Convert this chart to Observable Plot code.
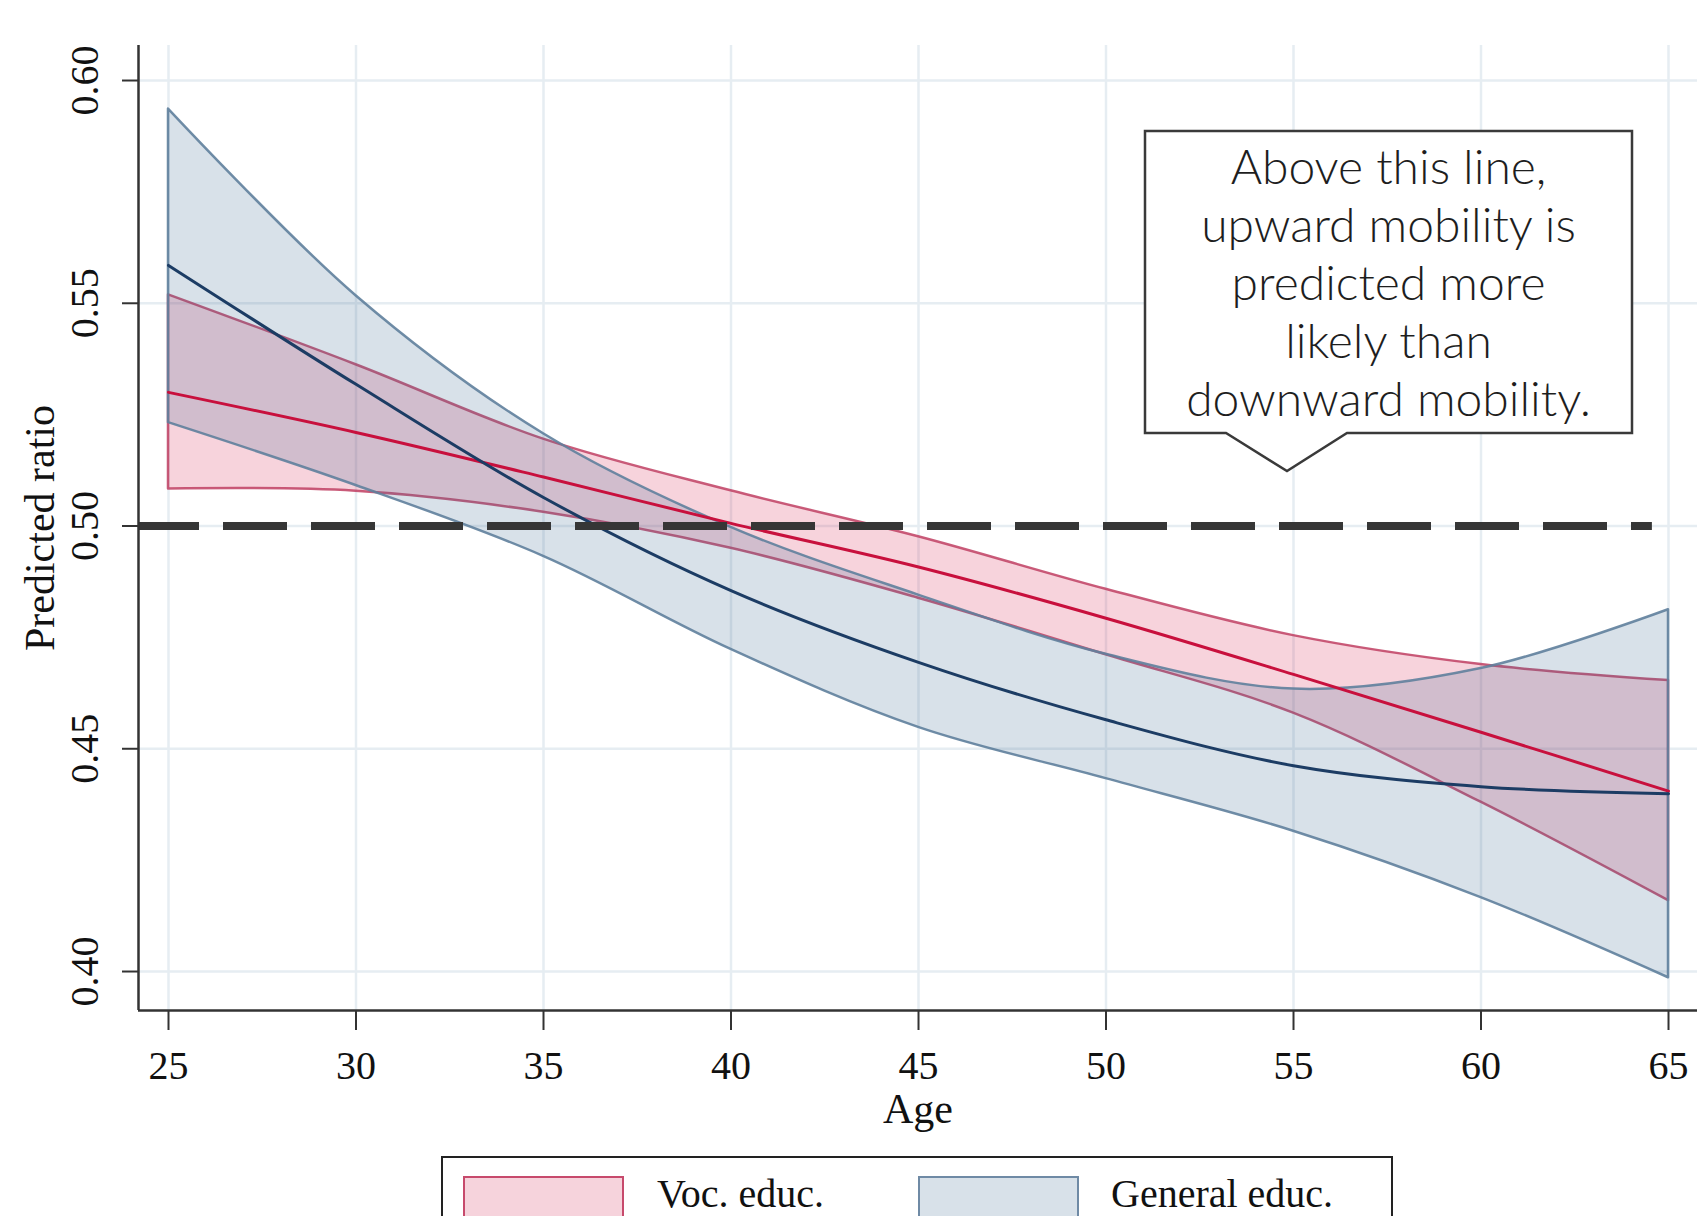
<!DOCTYPE html>
<html>
<head>
<meta charset="utf-8">
<script src="https://cdn.jsdelivr.net/npm/d3@7"></script>
<script src="https://cdn.jsdelivr.net/npm/@observablehq/plot@0.6"></script>
<style>
  html, body { margin: 0; padding: 0; background: #fff; overflow: hidden; }
  #wrap { position: relative; width: 1697px; height: 1216px; overflow: hidden; background: #fff; }
  #chart svg { display: block; }
  #note { position: absolute; left: 0; top: 0; pointer-events: none; }
  #legend {
    position: absolute; left: 441px; top: 1156px; width: 948px; height: 120px;
    border: 2px solid #222; background: #fff; box-sizing: content-box;
    font-family: "Liberation Serif", "Times New Roman", serif; font-size: 40px; color: #111;
  }
  .sw { position: absolute; top: 18px; width: 161px; height: 60px; box-sizing: border-box; border: 2px solid; }
  .lt { position: absolute; top: 16px; line-height: 40px; white-space: nowrap; }
</style>
</head>
<body>
<div id="wrap">
  <div id="chart"></div>
  <svg id="note" width="1697" height="1216"></svg>
  <div id="legend"></div>
</div>
<script>
// ---- data ----
const ages = [25, 30, 35, 40, 45, 50, 55, 60, 65];
const vocMean = [0.5300, 0.5210, 0.5110, 0.5006, 0.4908, 0.4793, 0.4667, 0.4537, 0.4405];
const vocHi   = [0.5519, 0.5362, 0.5195, 0.5079, 0.4976, 0.4858, 0.4754, 0.4689, 0.4653];
const vocLo   = [0.5083, 0.5078, 0.5031, 0.4950, 0.4838, 0.4711, 0.4580, 0.4380, 0.4159];
const genMean = [0.5585, 0.5318, 0.5064, 0.4855, 0.4694, 0.4565, 0.4462, 0.4415, 0.4399];
const genHi   = [0.5936, 0.5517, 0.5207, 0.4997, 0.4845, 0.4712, 0.4634, 0.4680, 0.4812];
const genLo   = [0.5232, 0.5091, 0.4932, 0.4723, 0.4548, 0.4433, 0.4315, 0.4166, 0.3986];
const xTicks = [25, 30, 35, 40, 45, 50, 55, 60, 65];
const yTicks = [0.40, 0.45, 0.50, 0.55, 0.60];
const refValue = 0.5;
const refEnd = 64.57;
const seriesNames = ["Voc. educ.", "General educ."];
const noteLines = ["Above this line,", "upward mobility is", "predicted more", "likely than", "downward mobility."];

const xDomain = [24.2, 65.773];
const yDomain = [0.39125, 0.60786];

const voc = ages.map((a, i) => ({age: a, mean: vocMean[i], lo: vocLo[i], hi: vocHi[i]}));
const gen = ages.map((a, i) => ({age: a, mean: genMean[i], lo: genLo[i], hi: genHi[i]}));

const colors = {
  vocFill: "#d8244f", vocEdge: "#bf3f63", vocLine: "#c8103d",
  genFill: "#3d6a8f", genEdge: "#5f7f9c", genLine: "#1c3c64",
  grid: "#e6edf2", axis: "#333333"
};

const chart = Plot.plot({
  width: 1697,
  height: 1150,
  marginLeft: 138,
  marginRight: 0,
  marginTop: 45,
  marginBottom: 140,
  style: {fontFamily: "'Liberation Serif', 'Times New Roman', serif", fontSize: "40px", color: "#111", background: "#fff"},
  x: {domain: xDomain},
  y: {domain: yDomain},
  marks: [
    Plot.gridX(xTicks, {stroke: colors.grid, strokeOpacity: 1, strokeWidth: 2.5}),
    Plot.gridY(yTicks, {stroke: colors.grid, strokeOpacity: 1, strokeWidth: 2.5}),
    Plot.areaY(voc, {x: "age", y1: "lo", y2: "hi", curve: "catmull-rom", fill: colors.vocFill, fillOpacity: 0.2, stroke: colors.vocEdge, strokeOpacity: 0.85, strokeWidth: 2.5}),
    Plot.areaY(gen, {x: "age", y1: "lo", y2: "hi", curve: "catmull-rom", fill: colors.genFill, fillOpacity: 0.2, stroke: colors.genEdge, strokeOpacity: 0.9, strokeWidth: 2.5}),
    Plot.lineY(voc, {x: "age", y: "mean", curve: "catmull-rom", stroke: colors.vocLine, strokeWidth: 3}),
    Plot.lineY(gen, {x: "age", y: "mean", curve: "catmull-rom", stroke: colors.genLine, strokeWidth: 3}),
    Plot.ruleY([refValue], {x1: xDomain[0], x2: refEnd, stroke: "#363636", strokeWidth: 8, strokeDasharray: "64 24", strokeDashoffset: 3}),
    Plot.ruleX([xDomain[0]], {stroke: colors.axis, strokeWidth: 2.5}),
    Plot.ruleY([yDomain[0]], {stroke: colors.axis, strokeWidth: 2.5}),
    Plot.axisX({ticks: xTicks, tickSize: 20, tickPadding: 20, stroke: colors.axis, strokeWidth: 2, label: "Age", labelAnchor: "center", labelOffset: 112, labelArrow: "none", fontSize: 40}),
    Plot.axisY({ticks: yTicks, tickSize: 16, tickPadding: 25, tickRotate: -90, tickFormat: ".2f", stroke: colors.axis, strokeWidth: 2, label: "Predicted ratio", labelAnchor: "center", labelOffset: 114, labelArrow: "none", fontSize: 40})
  ]
});
document.getElementById("chart").appendChild(chart);

// axis titles slightly larger
chart.querySelectorAll("g[aria-label='x-axis label'] text, g[aria-label='y-axis label'] text").forEach(t => t.setAttribute("font-size", "42"));

// ---- callout ----
const ns = "http://www.w3.org/2000/svg";
const note = document.getElementById("note");
const box = {l: 1145, t: 131, r: 1632, b: 433, p1: 1226, p2: 1347, ax: 1287, ay: 471};
const path = document.createElementNS(ns, "path");
path.setAttribute("d", `M${box.l},${box.t}H${box.r}V${box.b}H${box.p2}L${box.ax},${box.ay}L${box.p1},${box.b}H${box.l}Z`);
path.setAttribute("fill", "#fff");
path.setAttribute("stroke", "#3a3a3a");
path.setAttribute("stroke-width", "2.5");
note.appendChild(path);
noteLines.forEach((s, i) => {
  const t = document.createElementNS(ns, "text");
  t.setAttribute("x", (box.l + box.r) / 2);
  t.setAttribute("y", 184 + i * 58);
  t.setAttribute("text-anchor", "middle");
  t.setAttribute("font-family", "Lato, 'Open Sans', sans-serif");
  t.setAttribute("font-weight", "300");
  t.setAttribute("font-size", "48");
  t.setAttribute("fill", "#1e1e1e");
  t.textContent = s;
  note.appendChild(t);
});

// ---- legend ----
const legend = document.getElementById("legend");
const legendItems = [
  {name: seriesNames[0], bg: "#f6d3dc", border: "#c74a6c", sw: 20, tx: 214},
  {name: seriesNames[1], bg: "#d8e1e9", border: "#6f8aa5", sw: 475, tx: 668}
];
legendItems.forEach(it => {
  const s = document.createElement("div");
  s.className = "sw";
  s.style.left = it.sw + "px";
  s.style.background = it.bg;
  s.style.borderColor = it.border;
  legend.appendChild(s);
  const t = document.createElement("div");
  t.className = "lt";
  t.style.left = it.tx + "px";
  t.textContent = it.name;
  legend.appendChild(t);
});
</script>
</body>
</html>
